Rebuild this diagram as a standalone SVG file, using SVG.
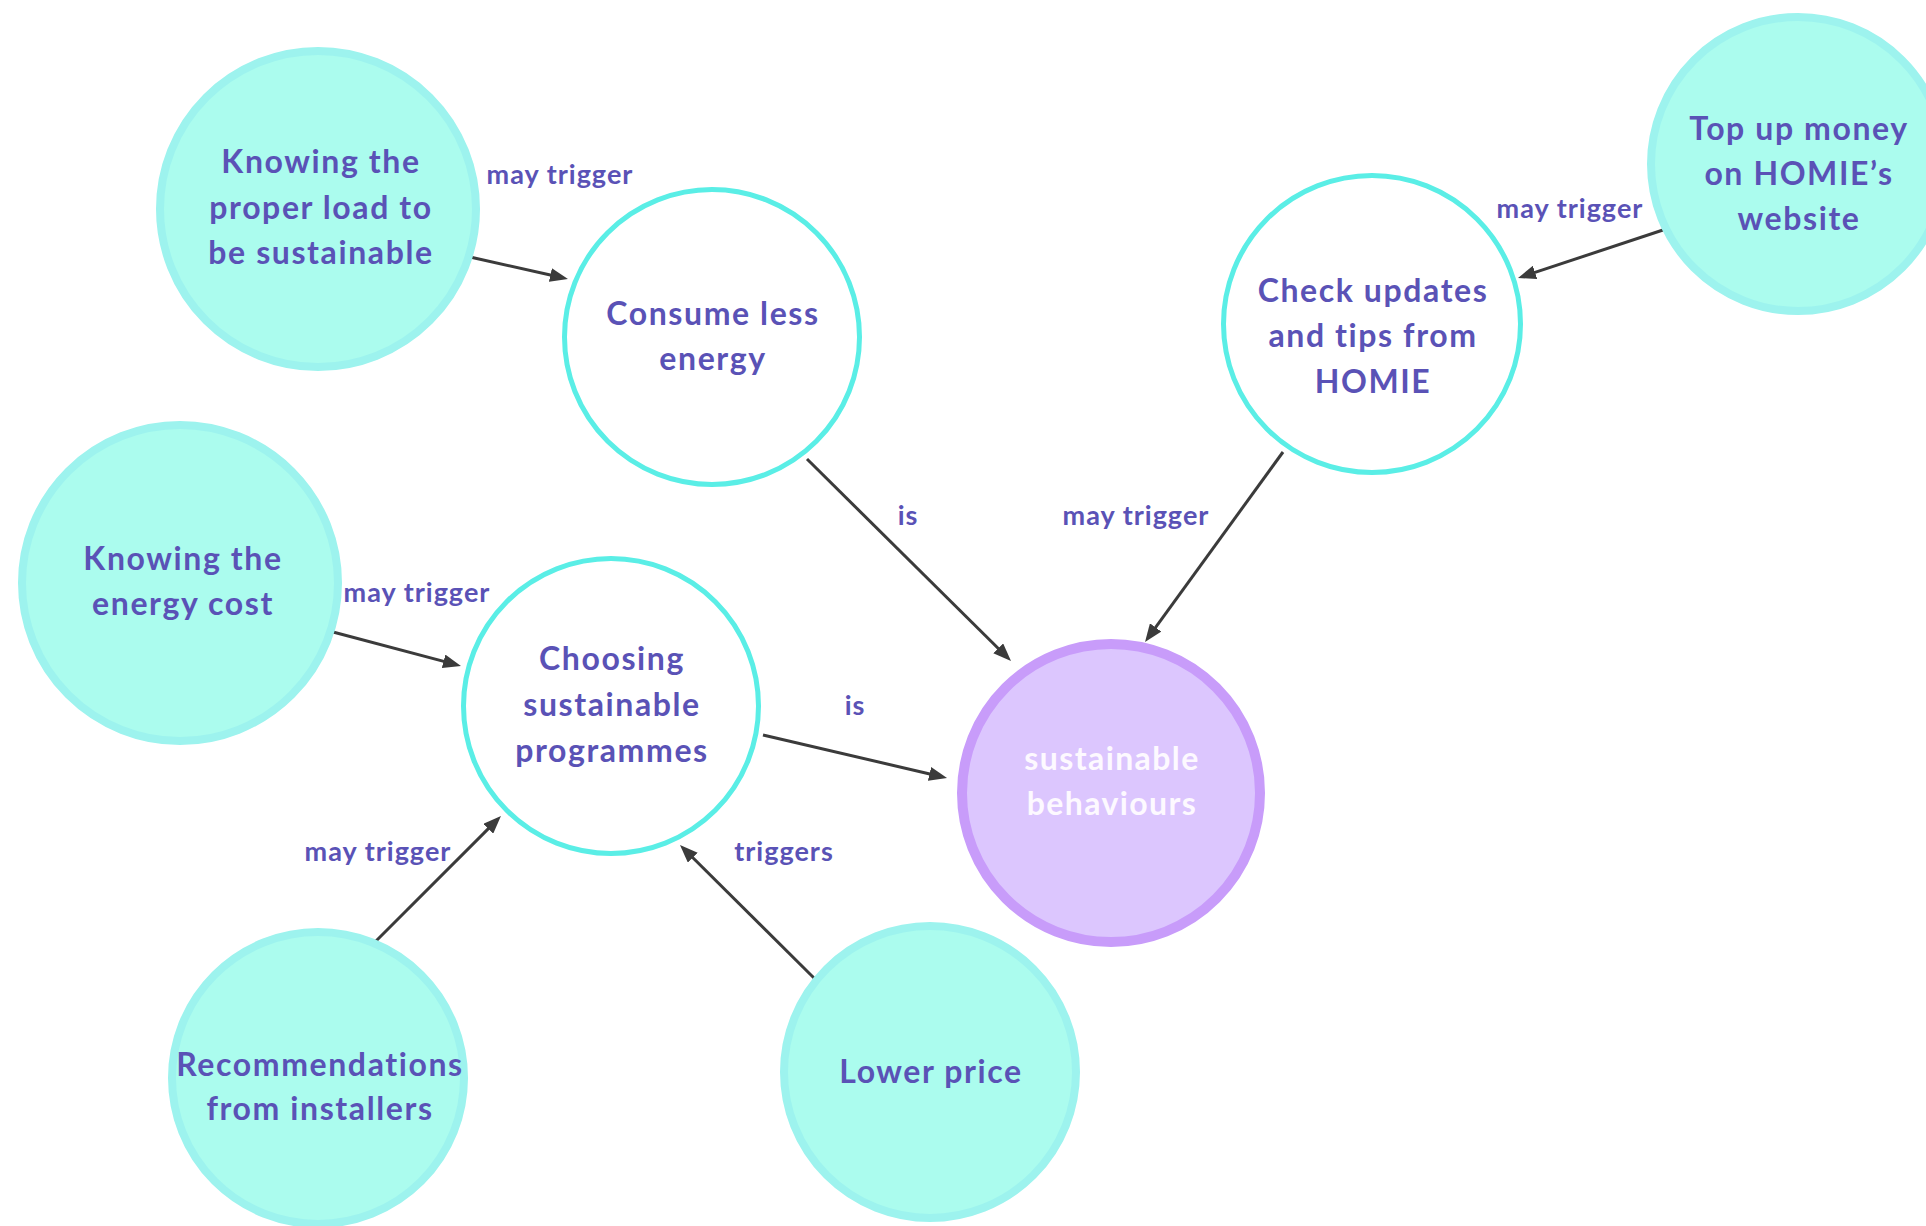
<svg xmlns="http://www.w3.org/2000/svg" width="1926" height="1226" viewBox="0 0 1926 1226">
  <defs>
    <style>
      .filled { fill: #abfcee; stroke: #9df3ee; stroke-width: 8; }
      .open { fill: #ffffff; stroke: #5aeee6; stroke-width: 5; }
      .goal { fill: #dcc6fe; stroke: #c89cfa; stroke-width: 10; }
      .ntext { font-family: Lato, "Liberation Sans", sans-serif; font-weight: 700; font-size: 32px; letter-spacing: 1.6px; fill: #5a52b6; text-anchor: middle; }
      .gtext { font-family: Lato, "Liberation Sans", sans-serif; font-weight: 700; font-size: 32px; letter-spacing: 1.4px; fill: #fdf9ff; text-anchor: middle; }
      .label { font-family: Lato, "Liberation Sans", sans-serif; font-weight: 700; font-size: 27px; letter-spacing: 1px; fill: #5a52b6; text-anchor: middle; }
      .edge { stroke: #3b3b3b; stroke-width: 3; fill: none; marker-end: url(#arrow); }
    </style>
    <marker id="arrow" markerUnits="userSpaceOnUse" markerWidth="18" markerHeight="14" refX="8" refY="7" orient="auto">
      <path d="M0,0 L18,7 L0,14 z" fill="#3b3b3b"/>
    </marker>
  </defs>

  <rect width="1926" height="1226" fill="#ffffff"/>

  <!-- connectors -->
  <g id="connectors">
    <line class="edge" x1="470" y1="257" x2="558.2" y2="276.8"/>
    <line class="edge" x1="807" y1="459" x2="1003.9" y2="654"/>
    <line class="edge" x1="1283" y1="452" x2="1150.9" y2="633.9"/>
    <line class="edge" x1="1663" y1="230" x2="1527.5" y2="274.9"/>
    <line class="edge" x1="333" y1="632" x2="451.3" y2="663.4"/>
    <line class="edge" x1="763" y1="735" x2="937.3" y2="775.7"/>
    <line class="edge" x1="376" y1="941" x2="493.9" y2="823.1"/>
    <line class="edge" x1="814" y1="978" x2="687.1" y2="852"/>
    <text class="label" x="560" y="184">may trigger</text>
    <text class="label" x="908" y="525">is</text>
    <text class="label" x="1136" y="525">may trigger</text>
    <text class="label" x="1570" y="218">may trigger</text>
    <text class="label" x="417" y="602">may trigger</text>
    <text class="label" x="855" y="715">is</text>
    <text class="label" x="378" y="861">may trigger</text>
    <text class="label" x="784" y="861">triggers</text>
  </g>

  <!-- nodes -->
  <g id="node-proper-load">
    <circle class="filled" cx="318" cy="209" r="158"/>
    <text class="ntext" x="321" y="173">Knowing the</text>
    <text class="ntext" x="321" y="219">proper load to</text>
    <text class="ntext" x="321" y="264">be sustainable</text>
  </g>
  <g id="node-consume-less">
    <circle class="open" cx="712" cy="337" r="147.5"/>
    <text class="ntext" x="713" y="325">Consume less</text>
    <text class="ntext" x="713" y="370">energy</text>
  </g>
  <g id="node-check-updates">
    <circle class="open" cx="1372" cy="324" r="148.5"/>
    <text class="ntext" x="1373" y="302">Check updates</text>
    <text class="ntext" x="1373" y="347">and tips from</text>
    <text class="ntext" x="1373" y="393">HOMIE</text>
  </g>
  <g id="node-top-up">
    <circle class="filled" cx="1798" cy="164" r="147"/>
    <text class="ntext" x="1799" y="140">Top up money</text>
    <text class="ntext" x="1799" y="185">on HOMIE’s</text>
    <text class="ntext" x="1799" y="230">website</text>
  </g>
  <g id="node-sustainable-behaviours">
    <circle class="goal" cx="1111" cy="793" r="149"/>
    <text class="gtext" x="1112" y="770">sustainable</text>
    <text class="gtext" x="1112" y="815">behaviours</text>
  </g>
  <g id="node-energy-cost">
    <circle class="filled" cx="180" cy="583" r="158"/>
    <text class="ntext" x="183" y="570">Knowing the</text>
    <text class="ntext" x="183" y="615">energy cost</text>
  </g>
  <g id="node-choosing">
    <circle class="open" cx="611" cy="706" r="147.5"/>
    <text class="ntext" x="612" y="670">Choosing</text>
    <text class="ntext" x="612" y="716">sustainable</text>
    <text class="ntext" x="612" y="762">programmes</text>
  </g>
  <g id="node-recommendations">
    <circle class="filled" cx="318" cy="1078" r="146"/>
    <text class="ntext" x="320" y="1076">Recommendations</text>
    <text class="ntext" x="320" y="1120">from installers</text>
  </g>
  <g id="node-lower-price">
    <circle class="filled" cx="930" cy="1072" r="146"/>
    <text class="ntext" x="931" y="1083">Lower price</text>
  </g>
</svg>
